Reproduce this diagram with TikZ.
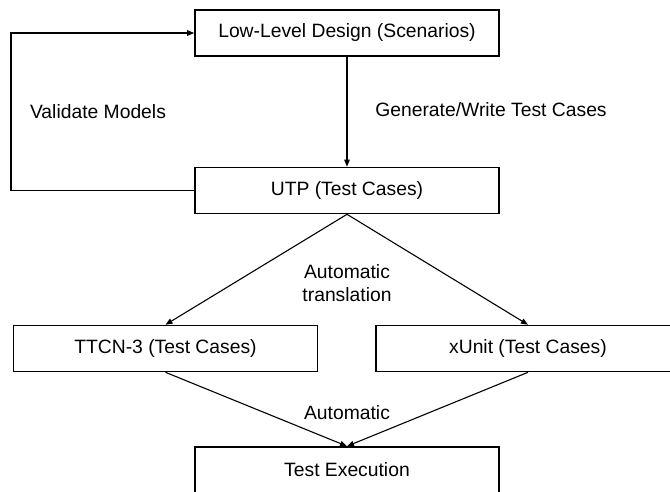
\documentclass[tikz,border=0pt]{standalone}
\usepackage{fontspec}
\setmainfont{Liberation Sans}
\usetikzlibrary{arrows.meta}
\begin{document}
\begin{tikzpicture}[x=1pt,y=-1pt,
  font=\fontsize{19.3}{23}\selectfont,
  stage/.style={draw, line width=1.6pt, minimum width=304pt, minimum height=46pt, inner sep=0pt},
  flow/.style={line width=1.1pt, -{Triangle[length=7pt,width=5.5pt]}},
  lbl/.style={inner sep=0pt, align=center}]
  \useasboundingbox (0,0) rectangle (670,491);
  % pipeline stages
  \node[stage] (ll)   at (347,33)    {Low-Level Design (Scenarios)};
  \node[stage] (utp)  at (347,190.5) {UTP (Test Cases)};
  \node[stage] (ttcn) at (165.5,348.5) {TTCN-3 (Test Cases)};
  \node[stage] (xu)   at (528,348.5) {xUnit (Test Cases)};
  \node[stage] (exec) at (347,470)   {Test Execution};
  % feedback loop
  \coordinate (loop) at (11,0);
  \draw[flow] (utp.west) -- (utp.west -| loop) |- (ll.west);
  % forward flow
  \draw[flow] (ll.south) -- (utp.north);
  \draw[flow] (utp.south) -- (ttcn.north);
  \draw[flow] (utp.south) -- (xu.north);
  \draw[flow] (ttcn.south) -- (exec.north);
  \draw[flow] (xu.south) -- (exec.north);
  % labels
  \node[lbl] (vm)  at (98,112)  {Validate Models};
  \node[lbl] (gw)  at (491,110) {Generate/Write Test Cases};
  \node[lbl] (at)  at (347,283) {Automatic\\translation};
  \node[lbl] (au)  at (347,413) {Automatic};
\end{tikzpicture}
\end{document}
